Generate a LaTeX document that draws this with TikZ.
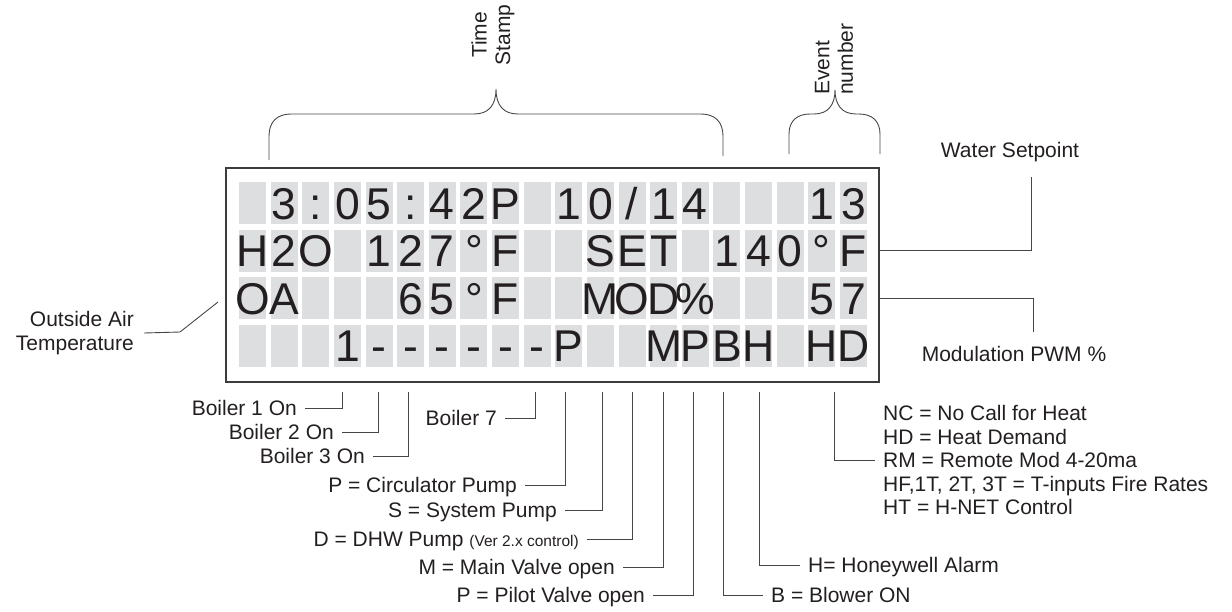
\documentclass[tikz,border=0pt]{standalone}
\usepackage{fontspec}
\setmainfont{Liberation Sans}
\usetikzlibrary{calc}
\definecolor{ink}{RGB}{35,31,32}
\definecolor{cellgray}{RGB}{221,222,224}
\definecolor{linegray}{RGB}{70,70,70}
\definecolor{boxgray}{RGB}{60,60,60}
\begin{document}
\begin{tikzpicture}[x=1pt,y=-1pt,
  lblfont/.style={font=\fontsize{21}{23.5}\selectfont, text=ink, inner xsep=8pt, inner ysep=0pt},
  lbl/.style={lblfont, text height=15pt, text depth=0pt},
  lead/.style={draw=linegray, line width=0.9pt},
  cell/.style={fill=cellgray, draw=none, minimum width=27pt, minimum height=42pt, inner sep=0pt},
  lcd/.style={font=\fontsize{44.5}{44.5}\selectfont, text=ink, inner sep=0pt, text height=32pt, text depth=0pt},
]
\useasboundingbox (0,0) rectangle (1232,611);

% display frame
\node[draw=boxgray, line width=1.2pt, minimum width=653pt, minimum height=214pt, inner sep=0pt] (box) at (552.5,275) {};

% cells
\foreach \r in {0,...,3}
  \foreach \c in {0,...,19}
    \node[cell] (c\r-\c) at ({252.5+31.63*\c},{203+47.5*\r}) {};

% characters
\foreach \c/\ch in {1/3, 2/:, 3/0, 4/5, 5/:, 6/4, 7/2, 8/P, 10/1, 11/0, 12/{/}, 13/1, 14/4, 18/1, 19/3}
  \node[lcd] at (c0-\c) {\ch};
\foreach \c/\ch in {0/H, 1/2, 2/O, 4/1, 5/2, 6/7, 7/°, 8/F, 11/S, 12/E, 13/T, 15/1, 16/4, 17/0, 18/°, 19/F}
  \node[lcd] at (c1-\c) {\ch};
\foreach \c/\ch in {0/O, 1/A, 5/6, 6/5, 7/°, 8/F, 11/M, 12/O, 13/D, 14/\%, 18/5, 19/7}
  \node[lcd] at (c2-\c) {\ch};
\foreach \c/\ch in {3/1, 4/-, 5/-, 6/-, 7/-, 8/-, 9/-, 10/P, 13/M, 14/P, 15/B, 16/H, 18/H, 19/D}
  \node[lcd] at (c3-\c) {\ch};

% top braces
\node[lblfont, inner sep=0pt, rotate=90, align=center] (ts) at (493,35) {Time\\Stamp};
\draw[lead] (269,160) -- (269,136) .. controls (269,122) and (277,114) .. (291,114) -- (474,114)
  .. controls (488,114) and (496,106) .. (496,89)
  .. controls (496,106) and (504,114) .. (518,114) -- (701,114)
  .. controls (715,114) and (723,122) .. (723,136) -- (723,156);

\node[lblfont, inner sep=0pt, rotate=90, align=left, anchor=west] (ev) at (834,95) {Event\\number};
\draw[lead] (789,154) -- (789,134) .. controls (789,121) and (797,114) .. (810,114) -- (814,114)
  .. controls (828,114) and (835,105) .. (835,90)
  .. controls (835,105) and (842,114) .. (856,114) -- (859,114)
  .. controls (872,114) and (880,121) .. (880,134) -- (880,154);

% right side labels
\node[lbl] (ws) at (1010,150) {Water Setpoint};
\coordinate (wsend) at (1031,177);
\draw[lead] (box.east |- c1-19) -| (wsend);

\node[lbl] (mod) at (1014,354) {Modulation PWM \%};
\coordinate (modend) at (1033,332);
\draw[lead] (box.east |- c2-19) -| (modend);

% left label
\node[lblfont, align=right, anchor=east, inner xsep=10pt] (oat) at (144,333) {Outside Air\\Temperature};
\coordinate (oatend) at (218,302);
\draw[lead] (oat.east) -- (180,332) -- (oatend);

% leader tops below the display
\coordinate (t1) at (342,392);
\coordinate (t2) at (378,392);
\coordinate (t3) at (408,392);
\coordinate (t7) at (535,392);
\coordinate (tpc) at (565,392);
\coordinate (tsp) at (602,392);
\coordinate (tdp) at (632,392);
\coordinate (tmv) at (663,392);
\coordinate (tpv) at (693,392);
\coordinate (tbl) at (723,392);
\coordinate (thw) at (759,392);
\coordinate (tnc) at (834,392);

\node[lbl, anchor=east] (b1) at (305,408) {Boiler 1 On};
\node[lbl, anchor=east] (b2) at (342,432) {Boiler 2 On};
\node[lbl, anchor=east] (b3) at (373,456) {Boiler 3 On};
\node[lbl, anchor=east] (b7) at (505,418) {Boiler 7};
\node[lbl, anchor=east] (pc) at (525,485) {P = Circulator Pump};
\node[lbl, anchor=east] (sp) at (565,510) {S = System Pump};
\node[lbl, anchor=east] (dp) at (587,539) {D = DHW Pump {\fontsize{15.5}{17}\selectfont(Ver 2.x control)}};
\node[lbl, anchor=east] (mv) at (623,567) {M = Main Valve open};
\node[lbl, anchor=east] (pv) at (653,595) {P = Pilot Valve open};
\node[lbl, anchor=west] (bl) at (763,595) {B = Blower ON};
\node[lbl, anchor=west] (hw) at (800,565) {H= Honeywell Alarm};
\node[lblfont, align=left, anchor=west] (nc) at (875,460) {NC = No Call for Heat\\HD = Heat Demand\\RM = Remote Mod 4-20ma\\HF,1T, 2T, 3T = T-inputs Fire Rates\\HT = H-NET Control};

\draw[lead] (b1.east) -| (t1);
\draw[lead] (b2.east) -| (t2);
\draw[lead] (b3.east) -| (t3);
\draw[lead] (b7.east) -| (t7);
\draw[lead] (pc.east) -| (tpc);
\draw[lead] (sp.east) -| (tsp);
\draw[lead] (dp.east) -| (tdp);
\draw[lead] (mv.east) -| (tmv);
\draw[lead] (pv.east) -| (tpv);
\draw[lead] (tbl) |- (bl.west);
\draw[lead] (thw) |- (hw.west);
\draw[lead] (tnc) |- (nc.west);
\end{tikzpicture}
\end{document}
